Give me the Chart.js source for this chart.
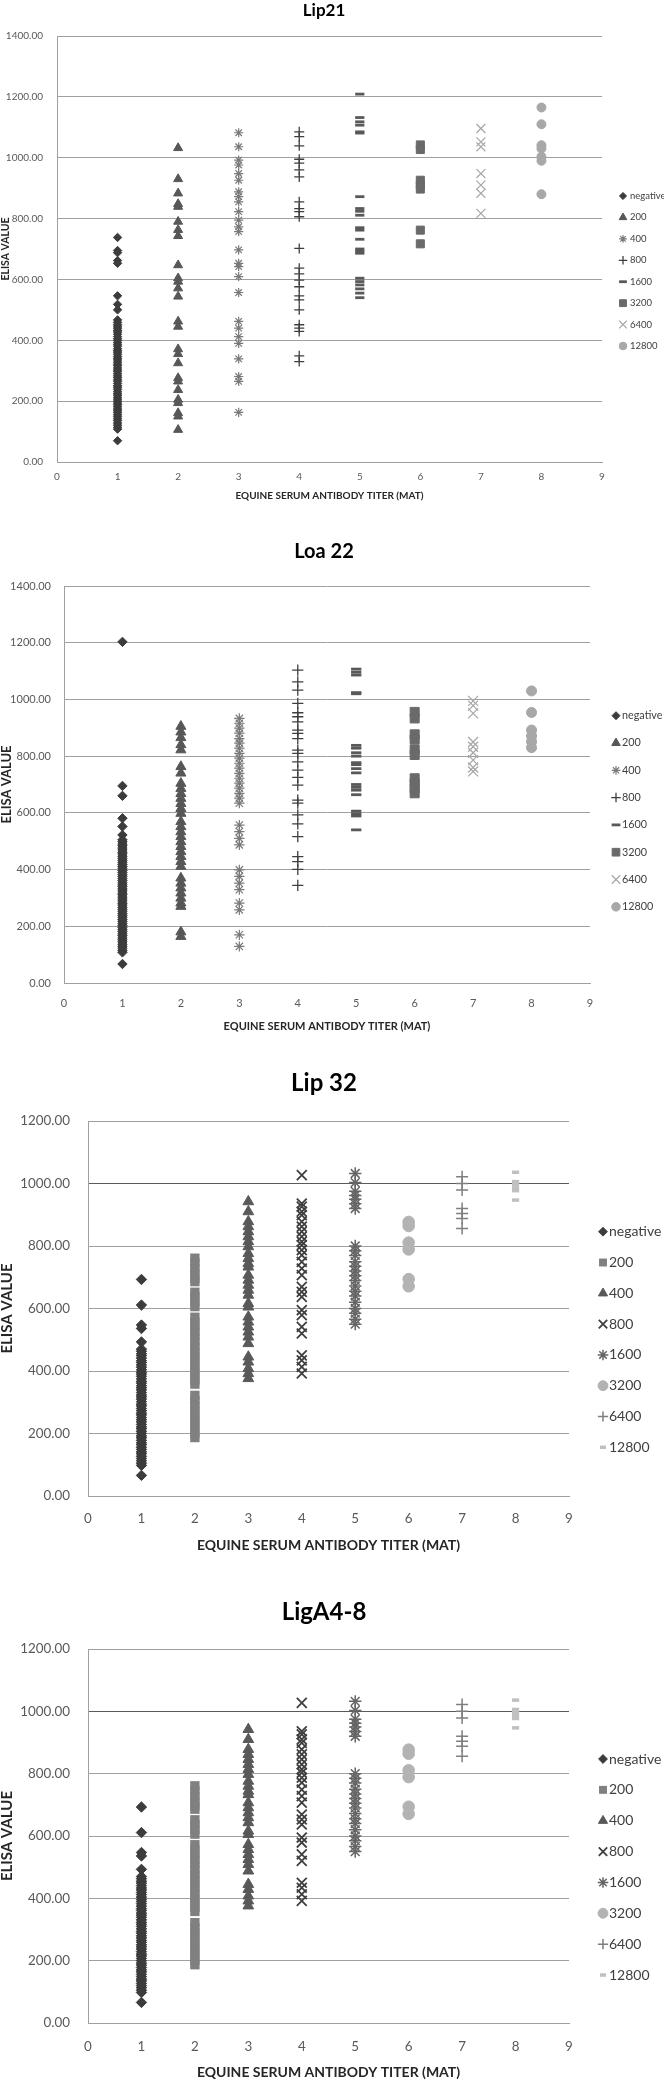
<!DOCTYPE html>
<html>
<head>
<meta charset="utf-8">
<script src="https://cdn.jsdelivr.net/npm/chart.js@4.4.1/dist/chart.umd.min.js"></script>
<style>
  body { margin: 0; background: #fff; }
  #wrap { position: relative; width: 664px; height: 2090px; }
  canvas { position: absolute; left: 0; }
</style>
</head>
<body>
<div id="wrap">
  <canvas id="lip21" width="664" height="520" style="top:0px"></canvas>
  <canvas id="loa22" width="664" height="520" style="top:520px"></canvas>
  <canvas id="lip32" width="664" height="520" style="top:1040px"></canvas>
  <canvas id="liga48" width="664" height="530" style="top:1560px"></canvas>
</div>
<script>
// MAT titer groups, plotted at x = 1..8
const titerLabels = ['negative', '200', '400', '800', '1600', '3200', '6400', '12800'];
const titerPositions = [1, 2, 3, 4, 5, 6, 7, 8];
const xRange = [0, 9];
const yRangeTall = [0, 1400];
const yRangeShort = [0, 1200];
const yStep = 200;

// ELISA values per titer group
const lip21Values = [
  [738, 695, 688, 662, 653, 546, 518, 500, 467, 459, 452, 447, 440, 433, 427, 420, 412, 405, 399, 392, 386, 380, 372, 366, 361, 354, 347, 341, 335, 328, 321, 316, 309, 302, 297, 290, 283, 277, 270, 265, 258, 251, 246, 239, 232, 226, 220, 213, 207, 200, 194, 188, 181, 174, 168, 162, 155, 149, 142, 136, 128, 121, 114, 108, 70],
  [1032, 930, 883, 848, 839, 790, 763, 743, 647, 604, 593, 571, 544, 462, 445, 371, 355, 325, 276, 265, 237, 205, 194, 161, 150, 106],
  [1082, 1036, 992, 976, 948, 926, 888, 872, 855, 823, 795, 773, 757, 697, 653, 642, 609, 557, 462, 440, 412, 390, 339, 281, 265, 163],
  [1085, 1069, 1039, 995, 982, 960, 937, 855, 833, 823, 806, 702, 637, 618, 598, 576, 546, 533, 500, 451, 440, 429, 349, 330],
  [1209, 1132, 1118, 1107, 1085, 1081, 872, 833, 824, 811, 770, 762, 732, 700, 693, 686, 604, 593, 582, 569, 555, 540],
  [1042, 1027, 926, 910, 897, 762, 717],
  [1096, 1052, 1036, 948, 910, 883, 817],
  [1165, 1110, 1041, 1030, 1003, 990, 880]
];

const loa22Values = [
  [1203, 695, 660, 581, 552, 522, 505, 498, 490, 484, 476, 469, 461, 455, 447, 440, 433, 426, 418, 411, 405, 397, 390, 382, 376, 368, 361, 353, 346, 340, 332, 325, 317, 311, 303, 296, 289, 281, 275, 267, 260, 253, 245, 238, 232, 224, 217, 209, 203, 195, 188, 181, 173, 167, 159, 152, 145, 137, 130, 123, 115, 108, 67],
  [905, 885, 865, 840, 822, 763, 740, 704, 686, 668, 651, 633, 615, 598, 569, 551, 533, 516, 498, 481, 463, 446, 428, 411, 370, 352, 335, 317, 299, 282, 270, 180, 164],
  [933, 916, 899, 881, 862, 846, 828, 810, 793, 775, 758, 739, 722, 705, 687, 669, 652, 634, 557, 534, 510, 487, 399, 376, 352, 329, 282, 258, 170, 129],
  [1103, 1062, 1033, 986, 953, 939, 921, 892, 880, 862, 821, 810, 780, 751, 725, 698, 645, 634, 593, 561, 516, 446, 428, 401, 344],
  [1107, 1096, 1086, 1024, 1020, 838, 828, 812, 800, 777, 770, 756, 741, 700, 690, 680, 664, 606, 596, 589, 540],
  [956, 933, 877, 859, 824, 804, 722, 704, 687, 669],
  [995, 978, 951, 850, 833, 812, 786, 760, 746],
  [1030, 954, 892, 871, 851, 830]
];

const lip32Values = [
  [693, 611, 547, 536, 493, 470, 463, 455, 449, 441, 433, 427, 419, 412, 404, 396, 390, 383, 375, 367, 361, 353, 346, 339, 331, 323, 317, 310, 302, 294, 288, 280, 273, 265, 259, 251, 244, 237, 229, 221, 215, 207, 200, 192, 186, 178, 170, 164, 156, 149, 141, 135, 127, 120, 113, 105, 98, 66],
  [761, 745, 728, 712, 697, 686, 652, 637, 621, 606, 572, 556, 541, 525, 509, 493, 477, 462, 446, 431, 415, 400, 385, 371, 358, 322, 306, 290, 275, 259, 244, 229, 214, 200, 187],
  [942, 910, 878, 862, 846, 830, 814, 798, 776, 760, 744, 733, 707, 691, 675, 659, 643, 616, 605, 573, 557, 541, 525, 509, 488, 445, 429, 408, 392, 376],
  [1027, 936, 926, 910, 899, 878, 862, 846, 830, 814, 803, 787, 771, 749, 728, 707, 669, 653, 637, 595, 579, 541, 520, 450, 434, 413, 392],
  [1032, 1003, 975, 962, 950, 935, 920, 800, 785, 770, 750, 735, 720, 705, 690, 672, 655, 640, 620, 600, 585, 566, 550],
  [877, 864, 811, 789, 694, 671],
  [1022, 1000, 979, 920, 904, 888, 856],
  [1036, 1006, 996, 986, 977, 947]
];

// the LigA4-8 panel reads the same as Lip 32
const ligA48Values = lip32Values;

// marker styles
const stylesA = [
  { shape: 'rectRot', color: '#3c3c3c', r: 4.2, bw: 1 },
  { shape: 'triangle', color: '#575757', r: 5.2, bw: 1 },
  { shape: 'star', color: '#7a7a7a', r: 4.6, bw: 1.2 },
  { shape: 'cross', color: '#3f3f3f', r: 5, bw: 1.3 },
  { shape: 'line', color: '#595959', r: 4.6, bw: 2.8 },
  { shape: 'rect', color: '#6a6a6a', r: 5.7, bw: 1 },
  { shape: 'crossRot', color: '#a6a6a6', r: 6.3, bw: 1.2 },
  { shape: 'circle', color: '#a8a8a8', r: 4.5, bw: 1 }
];
const stylesB = [
  { shape: 'rectRot', color: '#3c3c3c', r: 5.2, bw: 1 },
  { shape: 'rect', color: '#808080', r: 6.6, bw: 0 },
  { shape: 'triangle', color: '#595959', r: 6.2, bw: 1 },
  { shape: 'crossRot', color: '#3f3f3f', r: 7, bw: 1.8 },
  { shape: 'star', color: '#666666', r: 6.2, bw: 1.5 },
  { shape: 'circle', color: '#b3b3b3', r: 5.8, bw: 1 },
  { shape: 'cross', color: '#7f7f7f', r: 6, bw: 1.5 },
  { shape: 'line', color: '#c0c0c0', r: 3.6, bw: 3.5 }
];

const fontFamily = 'Lato, "Open Sans", sans-serif';
const gridColor = '#a0a0a0';

// legend drawn next to the plot like the Excel original
const sideLegend = {
  id: 'sideLegend',
  afterDraw(chart, args, opts) {
    const ctx = chart.ctx;
    ctx.save();
    ctx.font = opts.size + 'px ' + fontFamily;
    ctx.textBaseline = 'middle';
    ctx.textAlign = 'left';
    chart.data.datasets.forEach((ds, i) => {
      const y = opts.y + i * opts.gap;
      ctx.fillStyle = ds.pointBackgroundColor;
      ctx.strokeStyle = ds.pointBorderColor;
      ctx.lineWidth = ds.pointBorderWidth;
      Chart.helpers.drawPoint(ctx, {
        pointStyle: ds.pointStyle,
        radius: ds.pointRadius * opts.markerScale,
        borderWidth: ds.pointBorderWidth,
        rotation: 0
      }, opts.x, y);
      ctx.fillStyle = '#404040';
      ctx.fillText(ds.label, opts.textX, y);
    });
    ctx.restore();
  }
};

function buildChart(id, title, values, styles, yRange, p) {
  const datasets = values.map((ys, i) => ({
    label: titerLabels[i],
    data: ys.map(v => ({ x: titerPositions[i], y: v })),
    pointStyle: styles[i].shape,
    pointRadius: styles[i].r * p.markerScale,
    pointBackgroundColor: styles[i].color,
    pointBorderColor: styles[i].color,
    pointBorderWidth: styles[i].bw,
    showLine: false,
    clip: false
  }));

  return new Chart(document.getElementById(id), {
    type: 'scatter',
    data: { datasets },
    options: {
      responsive: false,
      animation: false,
      events: [],
      layout: { padding: { left: 0, top: 0, bottom: 0, right: 16 } },
      scales: {
        x: {
          type: 'linear',
          min: xRange[0],
          max: xRange[1],
          ticks: { stepSize: 1, padding: p.xTickPad, color: '#595959', font: { family: fontFamily, size: p.tickSize } },
          grid: { display: false, drawTicks: false },
          border: { display: true, color: gridColor },
          title: {
            display: true,
            text: 'EQUINE SERUM ANTIBODY TITER (MAT)',
            color: '#262626',
            font: { family: fontFamily, size: p.xTitleSize, weight: 'bold' },
            padding: { top: 0, bottom: p.xTitlePad }
          },
          afterFit: s => { s.height = p.xHeight; s.paddingRight = p.rightGap; }
        },
        y: {
          min: yRange[0],
          max: yRange[1],
          ticks: {
            stepSize: yStep,
            padding: p.yTickPad,
            color: '#595959',
            font: { family: fontFamily, size: p.tickSize },
            callback: v => v.toFixed(2)
          },
          grid: {
            drawTicks: false,
            color: c => (p.strongLine && c.tick && c.tick.value === p.strongLine) ? '#5a5a5a' : gridColor
          },
          border: { display: true, color: gridColor },
          title: {
            display: true,
            text: 'ELISA VALUE',
            color: '#262626',
            font: { family: fontFamily, size: p.yTitleSize, weight: 'bold', lineHeight: 1 },
            padding: 0
          },
          afterFit: s => { s.width = p.yWidth; }
        }
      },
      plugins: {
        legend: { display: false },
        tooltip: { enabled: false },
        title: {
          display: true,
          text: title,
          color: '#000',
          font: { family: fontFamily, size: p.titleSize, weight: 'bold' },
          padding: { top: p.titleTop, bottom: p.titleBottom }
        },
        sideLegend: p.legend
      }
    },
    plugins: [sideLegend]
  });
}

buildChart('lip21', 'Lip21', lip21Values, stylesA, yRangeTall, {
  titleSize: 17, titleTop: 0, titleBottom: 15.6,
  yWidth: 57, xHeight: 58, rightGap: 62,
  tickSize: 10, yTickPad: 14, xTickPad: 9,
  xTitleSize: 10, xTitlePad: 18, yTitleSize: 10.5,
  markerScale: 1,
  legend: { x: 623, textX: 630, y: 196, gap: 21.43, size: 9.5, markerScale: 0.85 }
});

buildChart('loa22', 'Loa 22', loa22Values, stylesA, yRangeTall, {
  titleSize: 20, titleTop: 20, titleBottom: 22,
  yWidth: 64, xHeight: 57, rightGap: 74,
  tickSize: 11, yTickPad: 13, xTickPad: 13.4,
  xTitleSize: 11, xTitlePad: 7.4, yTitleSize: 13,
  markerScale: 1.12,
  legend: { x: 616, textX: 622, y: 195.7, gap: 27.3, size: 10.8, markerScale: 0.85 }
});

buildChart('lip32', 'Lip 32', lip32Values, stylesB, yRangeShort, {
  titleSize: 24, titleTop: 28.6, titleBottom: 23.6,
  yWidth: 88, xHeight: 64, rightGap: 95,
  tickSize: 13.4, yTickPad: 18, xTickPad: 15,
  xTitleSize: 14, xTitlePad: 6.6, yTitleSize: 15,
  markerScale: 1, strongLine: 1000,
  legend: { x: 603, textX: 609, y: 191.7, gap: 30.8, size: 14, markerScale: 0.85 }
});

buildChart('liga48', 'LigA4-8', ligA48Values, stylesB, yRangeShort, {
  titleSize: 24, titleTop: 37.6, titleBottom: 22.6,
  yWidth: 88, xHeight: 67, rightGap: 95,
  tickSize: 13.4, yTickPad: 18, xTickPad: 16,
  xTitleSize: 14, xTitlePad: 9.6, yTitleSize: 15,
  markerScale: 1, strongLine: 1000,
  legend: { x: 603, textX: 609, y: 199, gap: 30.86, size: 14, markerScale: 0.85 }
});
</script>
</body>
</html>
